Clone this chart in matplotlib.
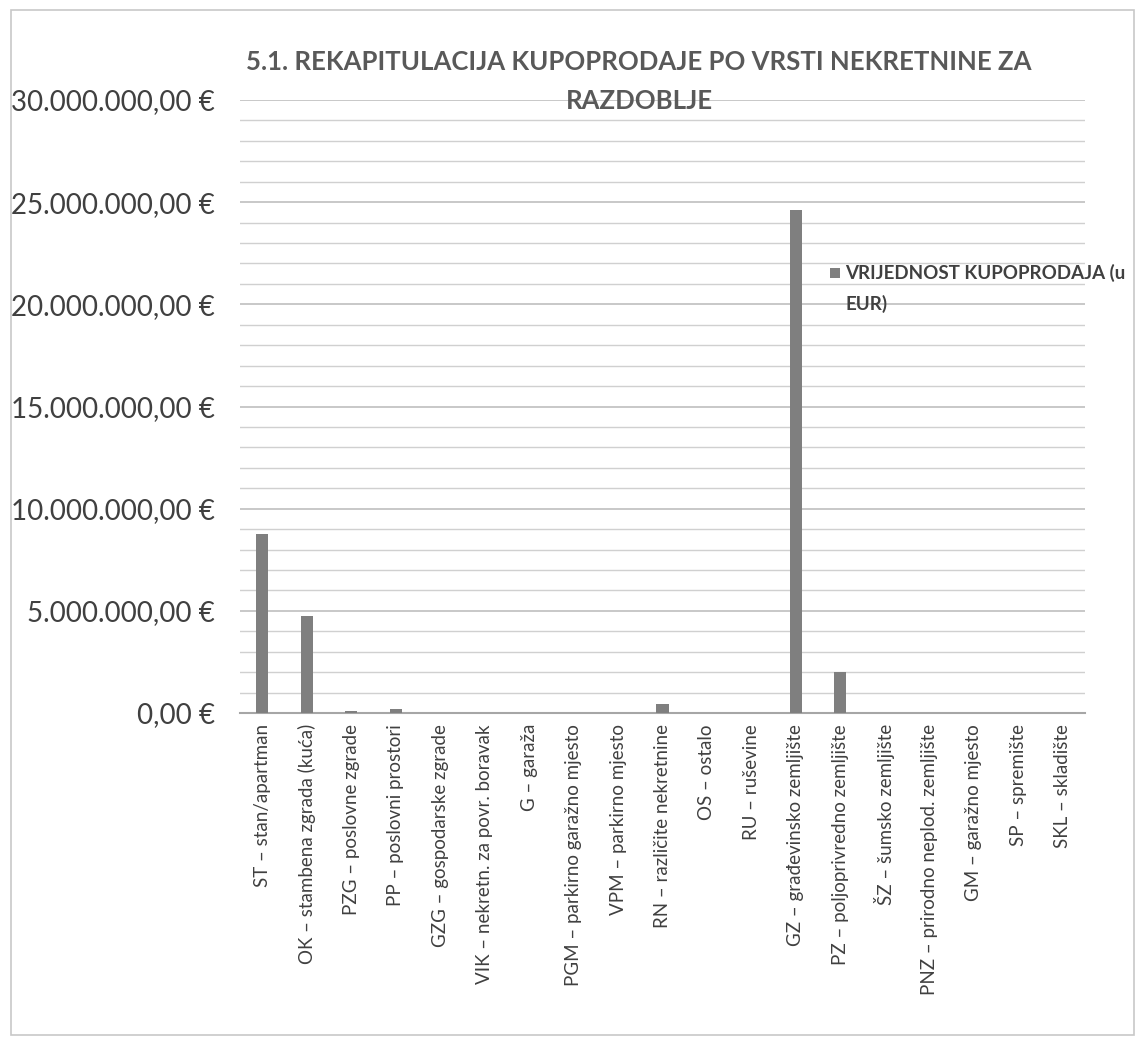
import matplotlib
matplotlib.use("Agg")
import matplotlib.pyplot as plt
from matplotlib.ticker import FuncFormatter, MultipleLocator
from matplotlib.patches import Rectangle

categories = [
    "ST – stan/apartman",
    "OK – stambena zgrada (kuća)",
    "PZG – poslovne zgrade",
    "PP – poslovni prostori",
    "GZG – gospodarske zgrade",
    "VIK – nekretn. za povr. boravak",
    "G – garaža",
    "PGM – parkirno garažno mjesto",
    "VPM – parkirno mjesto",
    "RN – različite nekretnine",
    "OS – ostalo",
    "RU – ruševine",
    "GZ – građevinsko zemljište",
    "PZ – poljoprivredno zemljište",
    "ŠZ – šumsko zemljište",
    "PNZ – prirodno neplod. zemljište",
    "GM – garažno mjesto",
    "SP – spremište",
    "SKL – skladište",
]
values = [8750000, 4730000, 120000, 180000, 20000, 15000, 10000, 5000, 5000,
          430000, 10000, 5000, 24600000, 2000000, 10000, 5000, 5000, 3000, 3000]

series_name = "VRIJEDNOST KUPOPRODAJA (u\nEUR)"
title = "5.1. REKAPITULACIJA KUPOPRODAJE PO VRSTI NEKRETNINE ZA\nRAZDOBLJE"

plt.rcParams['font.family'] = ['Lato', 'DejaVu Sans']
text_col = "#404040"
bar_col = "#7f7f7f"
grid_col = "#d0d0d0"

fig = plt.figure(figsize=(11.45, 10.40), dpi=100)
ax = fig.add_axes([240/1145, 1-713/1040, (1085-240)/1145, (713-100)/1040])

x = list(range(len(categories)))
ax.bar(x, values, width=0.27, color=bar_col, zorder=3, label=series_name)
ax.set_xlim(-0.5, len(categories)-0.5)
ax.set_ylim(0, 30000000)
ax.yaxis.set_major_locator(MultipleLocator(5000000))
ax.yaxis.set_minor_locator(MultipleLocator(1000000))
ax.yaxis.set_major_formatter(FuncFormatter(
    lambda v, p: "{:,.2f}".format(v).replace(",", "X").replace(".", ",").replace("X", ".") + " €"))
ax.grid(axis='y', which='major', color="#bfbfbf", linewidth=1.2, zorder=0)
ax.grid(axis='y', which='minor', color=grid_col, linewidth=1.0, zorder=0)
ax.tick_params(axis='y', which='both', length=0, labelsize=20, labelcolor=text_col, pad=18)
ax.tick_params(axis='x', length=0, labelsize=13.5, labelcolor=text_col, pad=8)
ax.set_xticks(x)
ax.set_xticklabels(categories, rotation=90)
for s in ['top', 'right', 'left']:
    ax.spines[s].set_visible(False)
ax.spines['bottom'].set_color("#a6a6a6")
ax.spines['bottom'].set_linewidth(1.5)

fig.text(639/1145, 1-50/1040, title, ha='center', va='top', fontsize=18.5,
         fontweight='bold', color="#595959", linespacing=1.75)

# legend (single series), drawn as a key square plus wrapped text
fig.patches.append(Rectangle((830/1145, 1-278/1040), 10/1145, 10/1040,
                             transform=fig.transFigure, facecolor=bar_col,
                             edgecolor='none'))
fig.text(845/1145, 1-264/1040, series_name, ha='left', va='top', fontsize=13.5,
         fontweight='bold', color=text_col, linespacing=1.85)

fig.patches.append(Rectangle((11/1145, 0.005), 1-22/1145, 1-10/1040-0.005,
                             transform=fig.transFigure, fill=False,
                             edgecolor="#c8c8c8", linewidth=1.2))

fig.savefig("out.png", dpi=100, facecolor="white")
